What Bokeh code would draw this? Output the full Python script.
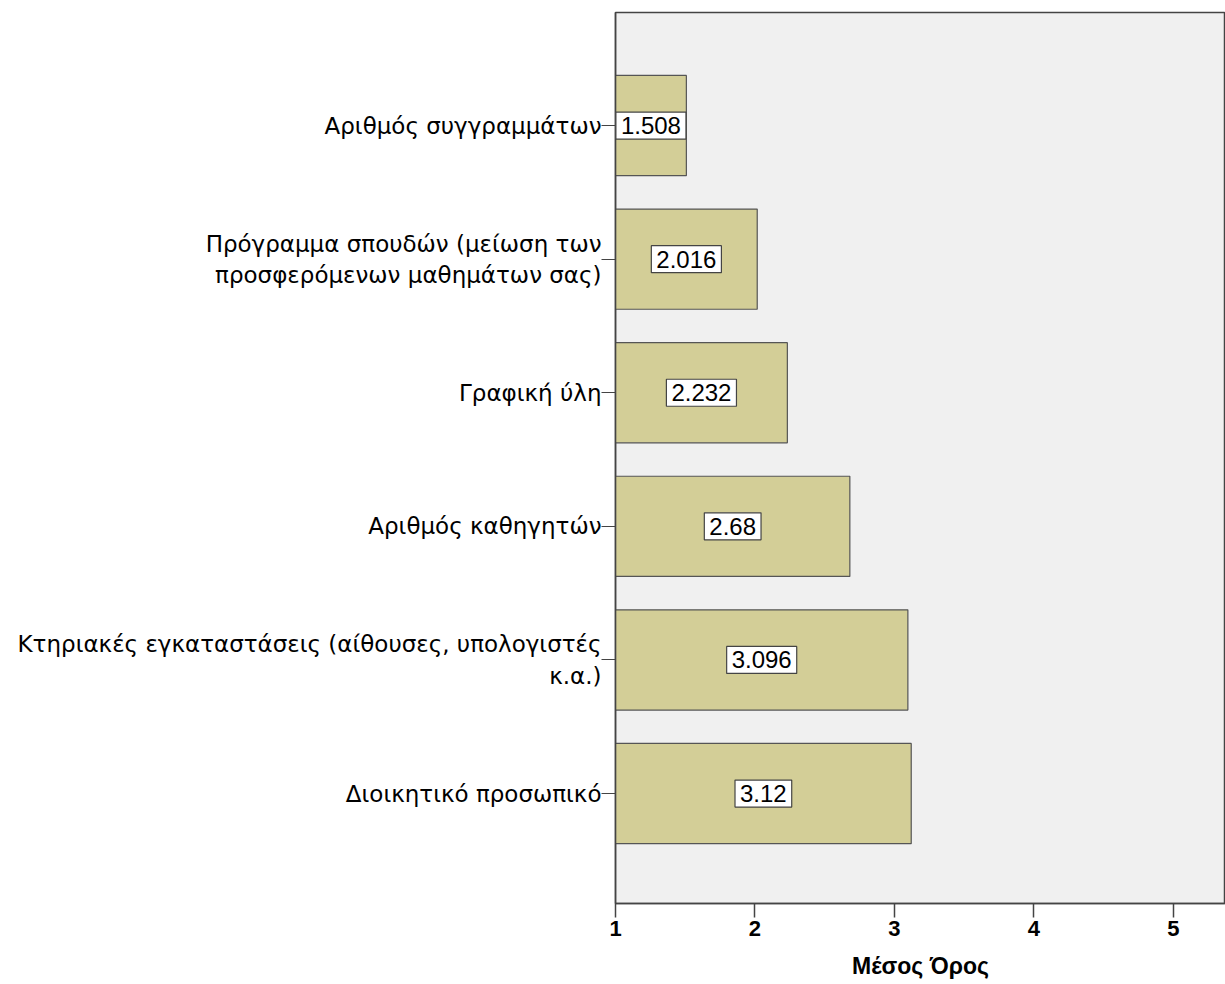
from bokeh.plotting import figure
from bokeh.models import Range1d, FixedTicker, Label, ColumnDataSource
from bokeh.embed import file_html
from bokeh.resources import INLINE

categories = [
    "Αριθμός συγγραμμάτων",
    "Πρόγραμμα σπουδών (μείωση των\nπροσφερόμενων μαθημάτων σας)",
    "Γραφική ύλη",
    "Αριθμός καθηγητών",
    "Κτηριακές εγκαταστάσεις (αίθουσες, υπολογιστές\nκ.α.)",
    "Διοικητικό προσωπικό",
]
means = [1.508, 2.016, 2.232, 2.68, 3.096, 3.12]
value_labels = ["1.508", "2.016", "2.232", "2.68", "3.096", "3.12"]
x_ticks = [1, 2, 3, 4, 5]

positions = list(range(len(categories)))
src = ColumnDataSource(dict(y=positions, right=means, left=[1] * len(means)))

p = figure(width=1225, height=984, output_backend="svg", toolbar_location=None,
           x_range=Range1d(1, 5.373), y_range=Range1d(5.823, -0.846))
p.min_border_left = 615
p.min_border_right = 0
p.min_border_top = 12
p.min_border_bottom = 81

p.background_fill_color = "#F0F0F0"
p.border_fill_color = "white"
p.outline_line_color = "#444444"
p.outline_line_width = 1.5
p.xgrid.visible = False
p.ygrid.visible = False

p.hbar(y="y", left="left", right="right", height=0.75, source=src,
       fill_color="#D3CE97", line_color="#555555", line_width=1.2)

for yv, v, lab in zip(positions, means, value_labels):
    p.add_layout(Label(x=(1 + v) / 2, y=yv, text=lab, text_align="center",
                       text_baseline="middle", text_font="Liberation Sans",
                       text_font_size="24px", text_color="black",
                       background_fill_color="white", border_line_color="#444444",
                       border_line_width=1.2, padding=5))

xa = p.xaxis[0]
xa.ticker = FixedTicker(ticks=x_ticks)
xa.axis_line_color = "#444444"
xa.axis_line_width = 1.5
xa.major_tick_in = 0
xa.major_tick_out = 14
xa.major_tick_line_color = "#444444"
xa.major_tick_line_width = 1.5
xa.minor_tick_line_color = None
xa.major_label_text_font = "Liberation Sans"
xa.major_label_text_font_style = "bold"
xa.major_label_text_font_size = "22px"
xa.major_label_text_color = "black"
xa.major_label_standoff = 3
xa.axis_label = "Μέσος Όρος"
xa.axis_label_text_font = "Liberation Sans"
xa.axis_label_text_font_style = "bold"
xa.axis_label_text_font_size = "23px"
xa.axis_label_text_color = "black"
xa.axis_label_standoff = 14

ya = p.yaxis[0]
ya.ticker = FixedTicker(ticks=positions)
ya.major_label_overrides = {i: c for i, c in zip(positions, categories)}
ya.axis_line_color = "#444444"
ya.axis_line_width = 1.5
ya.major_tick_in = 0
ya.major_tick_out = 14
ya.major_tick_line_color = "#444444"
ya.major_tick_line_width = 1.2
ya.minor_tick_line_color = None
ya.major_label_text_font = "DejaVu Sans"
ya.major_label_text_font_size = "23px"
ya.major_label_text_color = "black"
ya.major_label_standoff = 0

open("out.html", "w").write(file_html(p, INLINE))
